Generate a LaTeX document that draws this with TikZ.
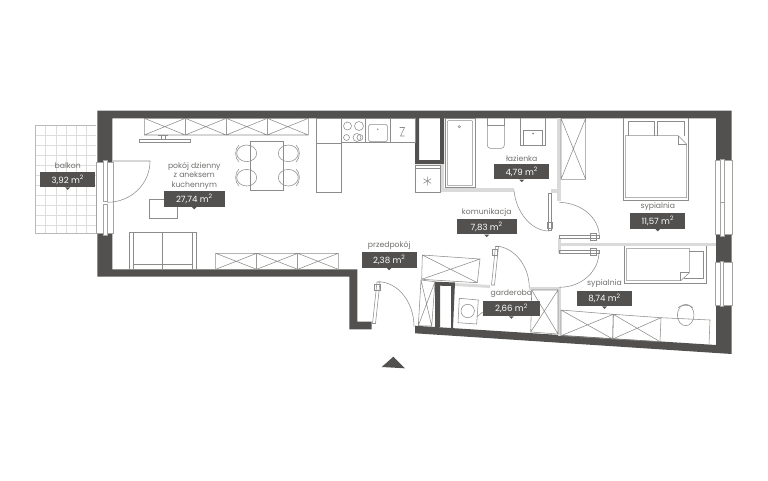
\documentclass[tikz,border=0pt]{standalone}
\usepackage{fontspec}
\setmainfont{Poppins}
\usetikzlibrary{positioning}
\definecolor{wallgray}{HTML}{525150}
\definecolor{partgray}{HTML}{DADADA}
\definecolor{linegray}{HTML}{8C8C8A}
\definecolor{textgray}{HTML}{6E6E6C}
\tikzset{
    %Define style for area boxes
    areabox/.style={
           rectangle,
           fill=wallgray,
           text=white,
           font=\fontsize{8.6}{9}\selectfont,
           minimum width=55pt,
           minimum height=15.4pt,
           inner sep=0pt},
    %Define style for room names
    roomname/.style={
           text=textgray,
           font=\fontsize{7.7}{9.4}\selectfont,
           align=center,
           inner sep=0pt},
    % Define line styles
    thin line/.style={draw=linegray, line width=0.55pt},
    soft line/.style={draw=linegray!60, line width=0.5pt},
    grid line/.style={draw=linegray!30, line width=0.4pt},
    wall/.style={fill=wallgray},
    partition/.style={fill=partgray},
    pane/.style={fill=white, draw=linegray!80, line width=0.5pt}
}
% cabinet with crossed doors, corners clockwise
\newcommand{\cabinet}[4]{\draw[thin line] #1 -- #2 -- #3 -- #4 -- cycle #1 -- #3 #2 -- #4;}
\begin{document}
\begin{tikzpicture}[x=1pt, y=-1pt]
    \useasboundingbox (0,0) rectangle (768,480);

    % balcony
    \foreach \gx in {45.6,55.8,66,76.2,86.4}
        \draw[grid line] (\gx,125) -- (\gx,233.3);
    \foreach \gy in {135,145,155,165,175,185,195,205,215,225}
        \draw[grid line] (35.3,\gy) -- (96,\gy);
    \draw[soft line] (96,125) -- (35.3,125) -- (35.3,233.3) -- (96,233.3);

    % walls
    \fill[wall] (97.3,110.7) -- (731.7,110.7) -- (731.7,354) -- (415,333.3) -- (415,325.7) -- (716,345) -- (716,118.3) -- (112.3,118.3) -- (112.3,269.3) -- (357.3,269.3) -- (357.3,321.7) -- (371.7,321.7) -- (371.7,329.3) -- (349.3,329.3) -- (349.3,276.7) -- (97.3,276.7) -- cycle;
    \fill[wall] (415,118) -- (419,118) -- (419,160) -- (440,160) -- (440,118) -- (444,118) -- (444,164) -- (415,164) -- cycle;
    \fill[wall] (435,281.7) -- (455,282.5) -- (453,328) -- (451,328) -- (451,286) -- (440,285.7) -- (440,327) -- (435,327) -- cycle;

    % partitions
    \fill[partition] (440,164) rectangle (444,191.7);
    \fill[partition] (444,188.3) rectangle (514,191.7);
    \fill[partition] (556.7,118.3) rectangle (561,201);
    \fill[partition] (550.7,189.3) rectangle (557,192.7);
    \fill[partition] (558,238) rectangle (561,253);
    \fill[partition] (558,243.3) rectangle (716,246.4);
    \fill[partition] (558,287) rectangle (561,336);
    \fill[partition] (529,287) rectangle (558,290);
    \fill[partition] (455,283) -- (490,285) -- (490,288) -- (455,286) -- cycle;

    % windows
    \draw[pane] (96,162.3) rectangle (113.3,233.3);
    \draw[pane] (103.3,160) rectangle (107.3,201.7);
    \draw[pane] (103.3,204) rectangle (107.3,235);
    \draw[pane] (715.3,160) rectangle (732.3,234.3);
    \draw[pane] (720,159.3) rectangle (724,202.7);
    \draw[pane] (720,202.7) rectangle (724,236);
    \draw[pane] (715.3,262.3) rectangle (732.3,305);
    \draw[pane] (720,261.3) rectangle (723.5,306);

    % doors
    \draw[thin line] (113,161) -- (150,161) .. controls (150,184) and (131,202.3) .. (107.3,202.3);
    \draw[thin line] (514,190.5) .. controls (516,212) and (531,231) .. (549,231);
    \draw[thin line] (548,193) rectangle (551.5,230);
    \draw[thin line] (547.5,222) rectangle (552.5,228.5);
    \draw[thin line] (559.3,202.3) .. controls (582,203) and (599.3,218) .. (599.3,236.7);
    \draw[thin line] (559.5,235.2) rectangle (599,238);
    \draw[thin line] (590.5,233.5) rectangle (596,240);
    \draw[thin line] (599,251.7) .. controls (599,271) and (582,287.3) .. (559.3,287.3);
    \draw[thin line] (559.5,250.2) rectangle (599,253);
    \draw[thin line] (590.5,248.5) rectangle (596,255);
    \draw[thin line] (496.7,246) .. controls (515,248) and (529,266) .. (529.3,287.3);
    \draw[thin line] (495.5,246.5) -- (491.5,285) -- (494.5,285) -- (498.5,246.5) -- cycle;
    \draw[thin line] (492.5,249) rectangle (497.5,255.5);
    \draw[thin line] (378.3,281.7) .. controls (398,282) and (414,302) .. (414,326.7);
    \draw[thin line] (377,282) -- (372.5,323.5) -- (375.5,323.5) -- (380,282) -- cycle;
    \draw[thin line] (374.5,284) rectangle (380,290.5);

    % living room furniture
    \cabinet{(144.3,118.3)}{(185.3,118.3)}{(185.3,135)}{(144.3,135)}
    \cabinet{(185.3,118.3)}{(226.3,118.3)}{(226.3,135)}{(185.3,135)}
    \cabinet{(226.3,118.3)}{(267.3,118.3)}{(267.3,135)}{(226.3,135)}
    \cabinet{(267.3,118.3)}{(308.3,118.3)}{(308.3,135)}{(267.3,135)}
    \draw[thin line] (139.3,139.5) rectangle (190.7,142.7);
    \draw[thin line] (158,135.5) -- (168,135.5) (161,135.5) -- (161,139.5) (165,135.5) -- (165,139.5);
    \draw[thin line] (250.7,141.3) rectangle (283.3,190.7);
    \draw[thin line] (246.7,153.3) ellipse (10 and 8.3);
    \draw[thin line] (246.7,177.7) ellipse (10 and 8.3);
    \draw[thin line] (288.3,153.3) ellipse (10 and 8.3);
    \draw[thin line] (288.3,177.7) ellipse (10 and 8.3);
    \draw[thin line] (239,145) .. controls (234.5,149) and (234.5,158) .. (239,162);
    \draw[thin line] (239,169) .. controls (234.5,173) and (234.5,182) .. (239,186);
    \draw[thin line] (296,145) .. controls (300.5,149) and (300.5,158) .. (296,162);
    \draw[thin line] (296,169) .. controls (300.5,173) and (300.5,182) .. (296,186);
    \draw[thin line] (149,199) rectangle (177.7,218.3);
    \draw[thin line] (129.3,232.3) rectangle (196,269.3);
    \draw[thin line] (133,232.3) -- (133,269.3) (192.5,232.3) -- (192.5,269.3) (133,264) -- (192.5,264) (162.7,232.3) -- (162.7,269.3);
    \cabinet{(215.7,253.3)}{(256.7,253.3)}{(256.7,269.3)}{(215.7,269.3)}
    \cabinet{(256.7,253.3)}{(297.7,253.3)}{(297.7,269.3)}{(256.7,269.3)}
    \cabinet{(297.7,253.3)}{(338.3,253.3)}{(338.3,269.3)}{(297.7,269.3)}

    % kitchen
    \draw[thin line] (316,118.3) rectangle (341.7,192.7);
    \draw[thin line] (316,143.3) -- (341.7,143.3);
    \draw[thin line] (341.7,118.3) rectangle (365.7,142.7);
    \draw[thin line] (347.5,126) circle (4);
    \draw[thin line] (359,126) circle (4.5);
    \draw[thin line] (346.5,137.5) circle (3);
    \draw[thin line] (357,137.5) circle (4);
    \draw[thin line] (360,137.5) circle (3);
    \draw[thin line] (365.7,118.3) rectangle (390.3,142.7);
    \draw[thin line, rounded corners=1.5pt] (368.7,124.3) rectangle (387.3,141.7);
    \fill[linegray] (377.7,129.3) circle (0.9);
    \draw[thin line] (390.3,118.3) rectangle (415,142.7);
    \draw[thin line] (399.5,127.5) -- (404.5,127.5) -- (400.5,136) -- (404.5,136);
    \draw[thin line] (415.7,165) rectangle (440,192.7);
    \draw[thin line] (415.7,168.3) -- (440,168.3);
    \draw[thin line] (427.3,176.5) -- (427.3,185.5) (423.4,178.7) -- (431.2,183.3) (423.4,183.3) -- (431.2,178.7);

    % bathroom
    \draw[thin line] (445,118.3) rectangle (475,187.3);
    \draw[thin line, rounded corners=1pt] (447.3,120.7) rectangle (472.7,185.7);
    \draw[thin line] (459.3,126.7) circle (1.2);
    \draw[thin line] (487.3,118.3) -- (487.3,125) -- (504.3,125) -- (504.3,118.3);
    \draw[thin line, rounded corners=3pt] (487.3,125) -- (487.3,148.3) -- (504.3,148.3) -- (504.3,125);
    \draw[thin line] (520,118.3) -- (520,145) -- (545,145) -- (545,118.3);
    \draw[thin line] (523,130) rectangle (542,145);
    \fill[linegray] (533,133.5) circle (1);
    \cabinet{(561,118.3)}{(585.7,118.3)}{(585.7,179.3)}{(561,179.3)}

    % bedrooms
    \draw[thin line] (623.3,118.3) -- (623.3,200) -- (688.3,200) -- (688.3,118.3);
    \draw[thin line] (625.3,135.7) -- (678.3,135.7) -- (686.7,144.3) -- (686.7,197.7) -- (625.3,197.7) -- cycle;
    \draw[thin line] (678.3,135.7) -- (678.3,144.3) -- (686.7,144.3);
    \draw[thin line] (628.3,135.7) -- (628.3,121.7) -- (654,121.7) -- (654,135.7);
    \draw[thin line] (657.3,135.7) -- (657.3,121.7) -- (684,121.7) -- (684,135.7);
    \draw[thin line] (624.3,246.4) -- (624.3,283.3) -- (706.7,283.3) -- (706.7,246.4);
    \draw[thin line] (626.7,248.3) -- (689.3,248.3) -- (689.3,272.7) -- (680.7,280.7) -- (626.7,280.7) -- cycle;
    \draw[thin line] (689.3,272.7) -- (680.7,272.7) -- (680.7,280.7);
    \draw[thin line] (689.3,251) -- (703.3,251) -- (703.3,278.3) -- (684,278.3);
    \cabinet{(561,310)}{(613.3,314.3)}{(612.7,339)}{(561,335.7)}
    \cabinet{(613.3,314.3)}{(661,317.7)}{(660,341.7)}{(612.7,339)}
    \draw[thin line] (661,317.7) -- (710,320) -- (709,344.5);
    \draw[thin line] (685.7,315) ellipse (8.3 and 10.7);
    \draw[thin line] (678,307.5) .. controls (682,304.5) and (689,304.5) .. (693,307.5);

    % wardrobes and washer
    \cabinet{(422.3,255)}{(480,259)}{(477.3,282.7)}{(421.7,279.3)}
    \cabinet{(421,280)}{(435,281.7)}{(431.7,326)}{(418.3,325.7)}
    \draw[thin line] (459.3,298.3) -- (478.3,300) -- (476.7,324) -- (458,322.7) -- cycle;
    \draw[thin line] (467.7,311) circle (6.7);
    \draw[thin line] (476.7,317) -- (482.7,312);
    \cabinet{(531.7,290)}{(558,290)}{(558,334)}{(530.7,332)}

    % entrance mark
    \fill[wall] (381.7,367) -- (393.3,356.7) -- (405,368.3) -- cycle;

    % area boxes
    \node [areabox] (balkonArea) at (67.7,179.5) {3,92 m\textsuperscript{2}};
    \node [areabox, minimum width=60.5pt] (pokojArea) at (194.3,198.9) {27,74 m\textsuperscript{2}};
    \node [areabox] (lazienkaArea) at (521.7,171.7) {4,79 m\textsuperscript{2}};
    \node [areabox, minimum width=60pt] (komunikacjaArea) at (486.7,226.7) {7,83 m\textsuperscript{2}};
    \node [areabox] (przedpokojArea) at (389.2,259.8) {2,38 m\textsuperscript{2}};
    \node [areabox, minimum width=57pt] (garderobaArea) at (511.4,308.4) {2,66 m\textsuperscript{2}};
    \node [areabox] (sypialniaOneArea) at (657.8,221) {11,57 m\textsuperscript{2}};
    \node [areabox] (sypialniaTwoArea) at (604.5,298.4) {8,74 m\textsuperscript{2}};

    % area box pointers
    \fill[wall] ([xshift=-2.5pt]balkonArea.south) -- ([xshift=2.5pt]balkonArea.south) -- ([yshift=-2.5pt]balkonArea.south) -- cycle;
    \fill[wall] ([xshift=-2.5pt]pokojArea.south) -- ([xshift=2.5pt]pokojArea.south) -- ([yshift=-2.5pt]pokojArea.south) -- cycle;
    \fill[wall] ([xshift=-2.5pt]lazienkaArea.south) -- ([xshift=2.5pt]lazienkaArea.south) -- ([yshift=-2.5pt]lazienkaArea.south) -- cycle;
    \fill[wall] ([xshift=-2.5pt]komunikacjaArea.south) -- ([xshift=2.5pt]komunikacjaArea.south) -- ([yshift=-2.5pt]komunikacjaArea.south) -- cycle;
    \fill[wall] ([xshift=-2.5pt]przedpokojArea.south) -- ([xshift=2.5pt]przedpokojArea.south) -- ([yshift=-2.5pt]przedpokojArea.south) -- cycle;
    \fill[wall] ([xshift=-2.5pt]garderobaArea.south) -- ([xshift=2.5pt]garderobaArea.south) -- ([yshift=-2.5pt]garderobaArea.south) -- cycle;
    \fill[wall] ([xshift=-2.5pt]sypialniaOneArea.south) -- ([xshift=2.5pt]sypialniaOneArea.south) -- ([yshift=-2.5pt]sypialniaOneArea.south) -- cycle;
    \fill[wall] ([xshift=-2.5pt]sypialniaTwoArea.south) -- ([xshift=2.5pt]sypialniaTwoArea.south) -- ([yshift=-2.5pt]sypialniaTwoArea.south) -- cycle;

    % room names
    \node [roomname, above=2.5pt of balkonArea] (balkon) {balkon};
    \node [roomname, above=1.5pt of pokojArea] (pokoj) {pokój dzienny\\z aneksem\\kuchennym};
    \node [roomname, above=2.5pt of lazienkaArea] (lazienka) {łazienka};
    \node [roomname, above=2.5pt of komunikacjaArea] (komunikacja) {komunikacja};
    \node [roomname, above=2.5pt of przedpokojArea] (przedpokoj) {przedpokój};
    \node [roomname, above=2.5pt of garderobaArea] (garderoba) {garderoba};
    \node [roomname, above=2.5pt of sypialniaOneArea] (sypialniaOne) {sypialnia};
    \node [roomname, above=2.5pt of sypialniaTwoArea] (sypialniaTwo) {sypialnia};
\end{tikzpicture}
\end{document}
